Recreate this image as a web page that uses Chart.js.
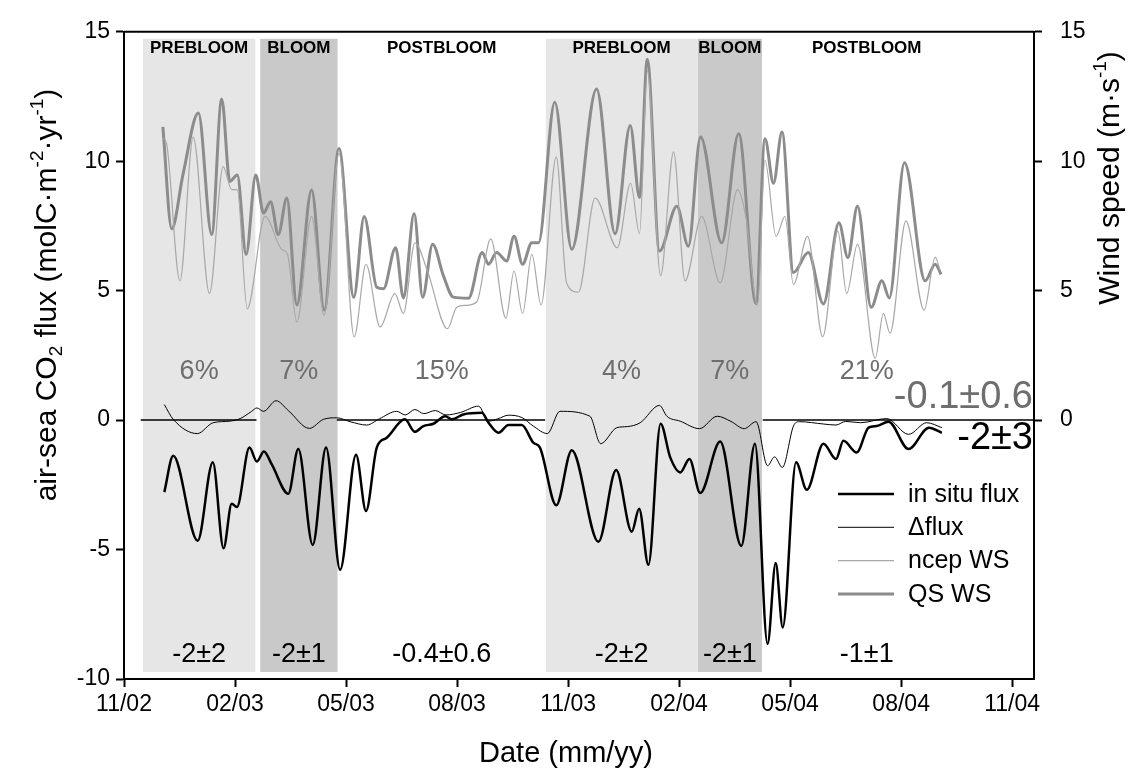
<!DOCTYPE html>
<html>
<head>
<meta charset="utf-8">
<script src="https://cdn.jsdelivr.net/npm/chart.js@4.4.1/dist/chart.umd.min.js"></script>
<style>
  html, body { margin:0; padding:0; background:#fff; }
  #wrap { width:1134px; height:778px; }
</style>
</head>
<body>
<div id="wrap"><canvas id="c" width="1134" height="778"></canvas></div>
<script>
// ── data (x = months since 1 Nov 2002) ──────────────────────────
const xTickMonths = [0, 3, 6, 9, 12, 15, 18, 21, 24];
const xTickLabels = ['11/02','02/03','05/03','08/03','11/03','02/04','05/04','08/04','11/04'];

const phaseNames = ['PREBLOOM','BLOOM','POSTBLOOM','PREBLOOM','BLOOM','POSTBLOOM'];
const phaseStart = [0.51, 3.68, 5.77, 11.40, 15.50, 17.24];
const phaseEnd   = [3.55, 5.77, 11.40, 15.49, 17.24, 22.90];
const phasePct   = ['6%','7%','15%','4%','7%','21%'];
const phaseFlux  = ['-2±2','-2±1','-0.4±0.6','-2±2','-2±1','-1±1'];
const totalDelta = '-0.1±0.6';
const totalFlux  = '-2±3';

const fluxMonth = [1.09,1.33,1.99,2.40,2.69,2.91,3.05,3.39,3.59,3.78,3.99,4.44,4.71,5.10,5.46,5.84,6.27,6.54,6.83,7.10,
  7.59,7.86,8.09,8.36,8.68,8.86,9.17,9.67,9.85,10.12,10.39,10.75,11.06,11.24,11.68,12.10,12.82,13.30,13.72,13.92,
  14.17,14.50,14.76,15.03,15.28,15.57,16.11,16.68,17.05,17.39,17.61,17.80,18.16,18.45,18.90,19.24,19.44,19.80,20.12,20.34,
  20.66,21.20,21.75,22.10];
const fluxValue = [-2.78,-1.38,-4.66,-1.63,-4.95,-3.23,-3.36,-1.06,-1.60,-1.21,-1.70,-2.84,-1.12,-4.82,-1.06,-5.78,-1.34,-3.51,-1.06,-0.68,
  0.03,-0.45,-0.23,-0.14,0.15,0.03,0.22,0.28,-0.10,-0.49,-0.19,-0.19,-0.87,-1.06,-3.29,-1.16,-4.70,-1.93,-4.31,-3.42,
  -5.59,-0.14,-1.44,-2.02,-1.50,-2.82,-0.83,-4.86,-0.91,-8.65,-5.52,-8.01,-1.63,-2.69,-0.91,-1.50,-0.80,-1.25,-0.29,-0.23,
  -0.06,-1.12,-0.29,-0.49];

const dfluxMonth = [1.09,1.33,1.98,2.41,2.86,3.14,3.45,3.59,3.77,4.11,4.44,5.01,5.39,5.75,6.11,6.56,6.90,7.37,7.60,7.86,
  8.10,8.41,8.70,9.10,9.58,9.85,10.10,10.39,10.75,11.06,11.44,11.78,12.59,12.88,13.32,13.60,13.95,14.47,14.67,15.03,
  15.55,16.03,16.40,16.76,17.08,17.39,17.58,17.79,18.09,18.25,18.90,19.24,19.50,19.90,20.61,21.20,21.69,22.10];
const dfluxValue = [0.60,0.03,-0.52,-0.10,-0.04,0.06,0.34,0.47,0.34,0.75,0.37,-0.32,0.03,0.09,-0.06,-0.19,0.05,0.34,0.20,0.41,
  0.25,0.37,0.20,0.30,0.54,-0.04,0.05,0.19,0.10,-0.23,-0.52,0.34,0.15,-0.91,-0.29,-0.25,-0.10,0.57,0.15,-0.04,
  -0.33,0.15,-0.05,-0.33,-0.06,-1.76,-1.42,-1.83,-0.23,-0.06,-0.15,-0.19,-0.05,-0.10,0.06,-0.55,-0.10,-0.29];

const ncepMonth = [1.05,1.15,1.51,1.87,2.31,2.68,2.91,3.06,3.33,3.81,4.26,4.42,4.67,5.07,5.41,5.81,6.22,6.54,6.92,7.32,
  7.55,7.86,8.20,8.74,8.99,9.22,9.53,9.91,10.32,10.54,10.77,11.02,11.27,11.68,11.96,12.28,12.73,13.33,13.69,13.93,
  14.14,14.50,14.85,15.16,15.61,16.11,16.58,16.80,17.12,17.32,17.62,17.86,18.09,18.47,18.88,19.29,19.53,19.82,20.30,20.52,
  20.70,21.13,21.62,21.92,22.05];
const ncepSpeed = [10.90,10.68,5.38,10.93,4.89,9.79,8.90,8.90,4.30,7.87,6.60,6.40,3.79,7.87,4.05,10.30,3.22,6.02,3.60,4.89,
  4.12,6.85,5.76,3.53,4.36,4.43,4.56,7.00,3.93,5.76,4.12,6.40,4.45,10.17,5.30,4.94,8.58,6.66,9.15,7.20,
  13.50,5.58,10.36,5.38,7.87,5.30,8.90,7.87,4.43,10.04,7.10,7.87,5.24,7.10,3.22,7.30,4.89,6.79,2.39,4.12,
  3.35,7.70,4.25,6.30,5.79];

const qsMonth = [1.05,1.29,1.60,2.01,2.37,2.64,2.86,3.06,3.30,3.56,3.77,3.96,4.17,4.40,4.67,5.07,5.41,5.81,6.21,6.49,
  6.83,7.01,7.34,7.55,7.84,8.07,8.34,8.63,8.90,9.31,9.68,9.85,10.07,10.34,10.54,10.77,11.02,11.20,11.64,12.10,
  12.77,13.27,13.68,13.93,14.14,14.47,14.94,15.25,15.58,16.15,16.61,17.08,17.32,17.55,17.78,18.09,18.49,18.90,19.32,19.56,
  19.82,20.19,20.48,20.68,21.09,21.65,21.92,22.08];
const qsSpeed = [11.33,7.39,9.53,11.86,7.17,12.40,9.22,9.47,6.40,9.47,8.00,8.44,7.17,8.58,4.45,8.89,4.25,10.49,4.75,7.87,
  5.13,5.07,6.66,4.72,7.98,4.75,6.79,5.58,4.75,4.71,6.47,6.02,6.47,6.15,7.10,6.02,6.85,6.85,12.28,6.60,
  12.79,7.20,11.38,8.60,13.94,6.53,8.26,6.72,10.94,6.85,11.06,4.50,10.87,9.15,11.13,5.70,6.47,4.49,7.62,6.28,
  8.26,4.36,5.38,4.72,9.94,5.38,6.02,5.63];

const zeroSegments = [[0.45, 3.58], [5.75, 11.38], [17.26, 24.59]];

// ── helpers ─────────────────────────────────────────────────────
const FONT = "'Liberation Sans', Arial, sans-serif";
const pts = (xs, ys) => xs.map((x, i) => ({ x, y: ys[i] }));
const zeroData = [];
zeroSegments.forEach(([a, b]) => { zeroData.push({x:a, y:0}, {x:b, y:0}, {x:b + 0.01, y:null}); });

function drawRich(ctx, parts, x, y, angle, size, color) {
  const small = Math.round(size * 0.62);
  ctx.save();
  ctx.translate(x, y);
  ctx.rotate(angle);
  ctx.fillStyle = color;
  ctx.textAlign = 'left';
  ctx.textBaseline = 'alphabetic';
  let total = 0;
  parts.forEach(p => { ctx.font = (p[1] ? small : size) + 'px ' + FONT; total += ctx.measureText(p[0]).width; });
  let cx = -total / 2;
  parts.forEach(p => {
    ctx.font = (p[1] ? small : size) + 'px ' + FONT;
    const dy = p[1] === 'sup' ? -size * 0.42 : p[1] === 'sub' ? size * 0.2 : 0;
    ctx.fillText(p[0], cx, size * 0.36 + dy);
    cx += ctx.measureText(p[0]).width;
  });
  ctx.restore();
}

const overlay = {
  id: 'overlay',
  beforeDatasetsDraw(chart) {
    const { ctx, scales: { x, y } } = chart;
    const top = y.getPixelForValue(14.73), bot = y.getPixelForValue(-9.73);
    ctx.save();
    phaseNames.forEach((n, i) => {
      if (n === 'POSTBLOOM') return;
      ctx.fillStyle = n === 'BLOOM' ? '#c9c9c9' : '#e6e6e6';
      const x0 = x.getPixelForValue(phaseStart[i]), x1 = x.getPixelForValue(phaseEnd[i]);
      ctx.fillRect(x0, top, x1 - x0, bot - top);
    });
    ctx.restore();
  },
  afterDatasetsDraw(chart) {
    const { ctx, chartArea: ca, scales: { x, y } } = chart;
    ctx.save();
    // frame top
    ctx.strokeStyle = '#000'; ctx.lineWidth = 2;
    ctx.beginPath(); ctx.moveTo(ca.left, ca.top); ctx.lineTo(ca.right, ca.top); ctx.stroke();

    ctx.textAlign = 'center'; ctx.textBaseline = 'alphabetic';
    phaseNames.forEach((n, i) => {
      const cx = x.getPixelForValue((phaseStart[i] + phaseEnd[i]) / 2);
      ctx.fillStyle = '#000';
      ctx.font = 'bold 17px ' + FONT;
      ctx.fillText(n, cx, ca.top + 21);
      ctx.fillStyle = '#6e6e6e';
      ctx.font = '27px ' + FONT;
      ctx.fillText(phasePct[i], cx, y.getPixelForValue(1.6));
      ctx.fillStyle = '#000';
      ctx.fillText(phaseFlux[i], cx, y.getPixelForValue(-9.35));
    });

    ctx.textAlign = 'right';
    ctx.font = '38px ' + FONT;
    ctx.fillStyle = '#6e6e6e';
    ctx.fillText(totalDelta, ca.right - 1, y.getPixelForValue(0.46));
    ctx.fillStyle = '#000';
    ctx.fillText(totalFlux, ca.right - 1, y.getPixelForValue(-1.11));

    // legend
    ctx.textAlign = 'left'; ctx.textBaseline = 'middle';
    ctx.font = '25px ' + FONT;
    chart.data.datasets.slice(0, 4).forEach((ds, i) => {
      const ly = 494 + i * 33.3;
      ctx.strokeStyle = ds.borderColor; ctx.lineWidth = ds.borderWidth;
      ctx.beginPath(); ctx.moveTo(838, ly); ctx.lineTo(894, ly); ctx.stroke();
      ctx.fillStyle = '#000';
      ctx.fillText(ds.label, 908, ly + 1);
    });
    ctx.restore();
  },
  afterDraw(chart) {
    const { ctx } = chart;
    drawRich(ctx, [['air-sea CO'], ['2','sub'], [' flux (molC·m'], ['-2','sup'], ['·yr'], ['-1','sup'], [')']],
      45, 295, -Math.PI / 2, 30, '#000');
    drawRich(ctx, [['Wind speed (m·s'], ['-1','sup'], [')']], 1108, 178, -Math.PI / 2, 30, '#000');
    drawRich(ctx, [['Date (mm/yy)']], 566, 752, 0, 29, '#000');
  }
};

const tickGrid = { display:true, drawOnChartArea:false, drawTicks:true, tickLength:8, tickWidth:2, tickColor:'#000' };
const tickFont = { family: FONT, size: 23 };

new Chart(document.getElementById('c'), {
  type: 'line',
  data: {
    datasets: [
      { label:'in situ flux', data: pts(fluxMonth, fluxValue), borderColor:'#000', borderWidth:2.5, yAxisID:'y' },
      { label:'\u0394flux', data: pts(dfluxMonth, dfluxValue), borderColor:'#000', borderWidth:1, yAxisID:'y' },
      { label:'ncep WS', data: pts(ncepMonth, ncepSpeed), borderColor:'#a8a8a8', borderWidth:1.2, yAxisID:'y2' },
      { label:'QS WS', data: pts(qsMonth, qsSpeed), borderColor:'#8c8c8c', borderWidth:3, yAxisID:'y2' },
      { label:'zero', data: zeroData, borderColor:'#000', borderWidth:1.5, yAxisID:'y', spanGaps:false, cubicInterpolationMode:'default', tension:0 },
    ]
  },
  options: {
    responsive:false, animation:false, devicePixelRatio:1,
    layout:{ padding:{ top:26, left:0, right:0, bottom:0 } },
    elements:{ point:{ radius:0 }, line:{ cubicInterpolationMode:'monotone', fill:false } },
    plugins:{ legend:{ display:false }, tooltip:{ enabled:false } },
    scales:{
      x:{ type:'linear', min:0, max:24.59,
        afterBuildTicks: s => { s.ticks = xTickMonths.map(v => ({ value:v })); },
        afterFit: s => { s.height = 99; },
        ticks:{ font:tickFont, color:'#000', padding:4, maxRotation:0, callback:(v, i) => xTickLabels[i] },
        grid: tickGrid, border:{ display:true, color:'#000', width:2 } },
      y:{ position:'left', min:-10, max:15,
        afterFit: s => { s.width = 124; },
        ticks:{ stepSize:5, font:tickFont, color:'#000', padding:6 },
        grid: tickGrid, border:{ display:true, color:'#000', width:2 } },
      y2:{ position:'right', min:-10, max:15,
        afterBuildTicks: s => { s.ticks = s.ticks.filter(t => t.value >= 0); },
        afterFit: s => { s.width = 100; },
        ticks:{ stepSize:5, font:tickFont, color:'#000', padding:18 },
        grid: tickGrid, border:{ display:true, color:'#000', width:2 } }
    }
  },
  plugins:[overlay]
});
</script>
</body>
</html>
